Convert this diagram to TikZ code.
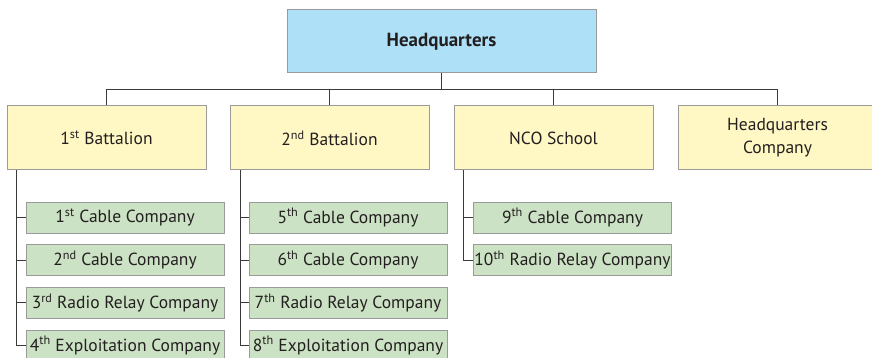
\documentclass[tikz,border=0pt]{standalone}
\usepackage{fontspec}
\setmainfont{PT Sans}
\definecolor{hqblue}{HTML}{AEE0F7}
\definecolor{batyellow}{HTML}{FFF8C4}
\definecolor{cogreen}{HTML}{CCE2C4}
\definecolor{boxline}{HTML}{9A9A9A}
\definecolor{txt}{HTML}{231F20}
\definecolor{conn}{HTML}{3A3A3A}
\tikzset{
  box/.style={draw=boxline, line width=1pt, inner sep=0pt, align=center, text=txt, font=\fontsize{17.5}{23}\selectfont},
  hqbox/.style={box, fill=hqblue, minimum width=309pt, minimum height=63pt, font=\bfseries\fontsize{19}{22}\selectfont},
  batbox/.style={box, fill=batyellow, minimum width=199pt, minimum height=64pt},
  cobox/.style={box, fill=cogreen, minimum width=198pt, minimum height=31pt},
  link/.style={draw=conn, line width=0.9pt}
}
\newcommand{\sups}[1]{\textsuperscript{#1}}
\begin{document}
\begin{tikzpicture}[x=1pt,y=-1pt]
\useasboundingbox (0,0) rectangle (872,358);
\clip (0,0) rectangle (872,358);
\node[hqbox] (hq) at (441.5,41.5) {Headquarters};
\node[batbox] (b1) at (106.5,138) {1\sups{st} Battalion};
\node[batbox] (b2) at (329.5,138) {2\sups{nd} Battalion};
\node[batbox] (b3) at (553.5,138) {NCO School};
\node[batbox] (b4) at (777.5,138) {Headquarters\\Company};
\coordinate (bus) at (0,89);
% top connectors
\draw[link] (hq.south) -- (hq.south |- bus);
\draw[link] (b1.north |- bus) -- (b4.north |- bus);
\foreach \b in {b1,b2,b3,b4} \draw[link] (\b.north |- bus) -- (\b.north);
% companies
\node[cobox] (c1) at (125,217.5) {1\sups{st} Cable Company};
\node[cobox] (c2) at (125,260.2) {2\sups{nd} Cable Company};
\node[cobox] (c3) at (125,302.9) {3\sups{rd} Radio Relay Company};
\node[cobox] (c4) at (125,345.6) {4\sups{th} Exploitation Company};
\node[cobox] (c5) at (348,217.5) {5\sups{th} Cable Company};
\node[cobox] (c6) at (348,260.2) {6\sups{th} Cable Company};
\node[cobox] (c7) at (348,302.9) {7\sups{th} Radio Relay Company};
\node[cobox] (c8) at (348,345.6) {8\sups{th} Exploitation Company};
\node[cobox] (c9) at (572.5,217.5) {9\sups{th} Cable Company};
\node[cobox] (c10) at (572.5,260.2) {10\sups{th} Radio Relay Company};
\coordinate (s1) at (16,0);
\coordinate (s2) at (240,0);
\coordinate (s3) at (463,0);
\draw[link] (s1 |- b1.south) -- (s1 |- c4.west) -- (c4.west);
\foreach \c in {c1,c2,c3} \draw[link] (s1 |- \c.west) -- (\c.west);
\draw[link] (s2 |- b2.south) -- (s2 |- c8.west) -- (c8.west);
\foreach \c in {c5,c6,c7} \draw[link] (s2 |- \c.west) -- (\c.west);
\draw[link] (s3 |- b3.south) -- (s3 |- c10.west) -- (c10.west);
\draw[link] (s3 |- c9.west) -- (c9.west);
\end{tikzpicture}
\end{document}
